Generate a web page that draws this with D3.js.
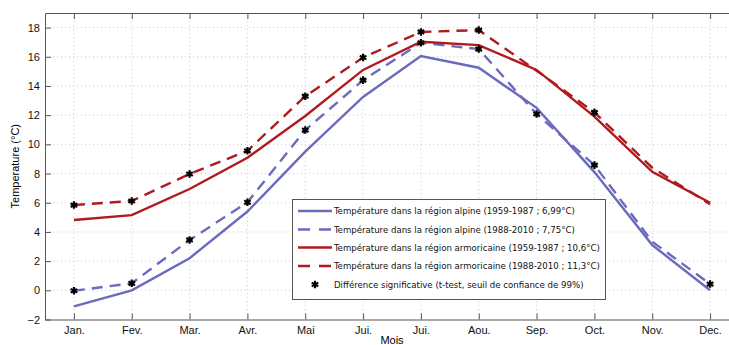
<!DOCTYPE html>
<html><head><meta charset="utf-8">
<script src="https://cdn.jsdelivr.net/npm/d3@7"></script>
<style>body{margin:0;background:#fff;} svg{display:block;}</style>
</head><body>
<svg id="c" width="729" height="345"></svg>
<script>
const months = ["Jan.","Fev.","Mar.","Avr.","Mai","Jui.","Jui.","Aou.","Sep.","Oct.","Nov.","Dec."];
const yTicks = [-2,0,2,4,6,8,10,12,14,16,18];
const alpine1 = [-1.1,0.0,2.2,5.4,9.5,13.25,16.05,15.25,12.5,8.1,3.1,0.0];
const alpine2 = [-0.03,0.48,3.45,6.03,10.98,14.4,16.96,16.53,12.08,8.58,3.33,0.43];
const armor1 = [4.82,5.15,6.94,9.08,11.94,15.1,17.03,16.8,15.1,11.9,8.12,6.0];
const armor2 = [5.84,6.12,7.97,9.56,13.3,15.95,17.7,17.83,15.05,12.19,8.4,5.9];
const sigAlpine = [1,1,1,1,1,1,1,1,1,1,0,1];
const sigArmor = [1,1,1,1,1,1,1,1,0,1,0,0];
const legendLabels = [
  "Température dans la région alpine (1959-1987 ; 6,99°C)",
  "Température dans la région alpine (1988-2010 ; 7,75°C)",
  "Température dans la région armoricaine (1959-1987 ; 10,6°C)",
  "Température dans la région armoricaine (1988-2010 ; 11,3°C)",
  "Différence significative (t-test, seuil de confiance de 99%)"
];
const blue = "#6b6bbd", red = "#b01a1f";

const svg = d3.select("#c");
const L = 45, T = 13, R = 739, B = 319.5;
const x = d3.scaleLinear().domain([0.5, 12.5]).range([L, R]);
const y = d3.scaleLinear().domain([-2, 19]).range([B, T]);
const font = "Liberation Sans, Arial, sans-serif";

// grid
const g = svg.append("g");
g.selectAll(".gy").data(yTicks.slice(1)).enter().append("line")
  .attr("x1", L).attr("x2", R).attr("y1", d => y(d)).attr("y2", d => y(d))
  .attr("stroke", "#c8c8c8").attr("stroke-width", 1).attr("stroke-dasharray", "1,3");
g.selectAll(".gx").data(d3.range(1, 13)).enter().append("line")
  .attr("y1", T).attr("y2", B).attr("x1", d => x(d)).attr("x2", d => x(d))
  .attr("stroke", "#c8c8c8").attr("stroke-width", 1).attr("stroke-dasharray", "1,3");

// axes
const axCol = "#555";
const axBottom = svg.append("g").attr("transform", `translate(0,${B})`)
  .call(d3.axisBottom(x).tickValues(d3.range(1, 13)).tickFormat(d => months[d - 1]).tickSizeInner(-6).tickSizeOuter(0).tickPadding(5));
const axTop = svg.append("g").attr("transform", `translate(0,${T})`)
  .call(d3.axisTop(x).tickValues(d3.range(1, 13)).tickFormat("").tickSizeInner(-6).tickSizeOuter(0));
const axLeft = svg.append("g").attr("transform", `translate(${L},0)`)
  .call(d3.axisLeft(y).tickValues(yTicks).tickFormat(d => d < 0 ? "\u22122" : d).tickSizeInner(-6).tickSizeOuter(0).tickPadding(5));
[axBottom, axTop, axLeft].forEach(a => {
  a.selectAll("path").attr("stroke", axCol);
  a.selectAll("line").attr("stroke", axCol);
  a.selectAll("text").attr("font-family", font).attr("font-size", 11).attr("fill", "#111");
});
axBottom.selectAll("text").attr("dy", "0.9em");

// axis titles
svg.append("text").attr("transform", `translate(19,${(T + B) / 2}) rotate(-90)`)
  .attr("text-anchor", "middle").attr("font-family", font).attr("font-size", 11).text("Temperature (°C)");
svg.append("text").attr("x", (L + R) / 2).attr("y", 344).attr("text-anchor", "middle")
  .attr("font-family", font).attr("font-size", 11).text("Mois");

// lines
const line = d3.line().x((d, i) => x(i + 1)).y(d => y(d));
const series = [
  {v: alpine1, c: blue, dash: null},
  {v: alpine2, c: blue, dash: "11,7"},
  {v: armor1, c: red, dash: null},
  {v: armor2, c: red, dash: "11,7"}
];
series.forEach(s => {
  svg.append("path").datum(s.v).attr("d", line).attr("fill", "none")
    .attr("stroke", s.c).attr("stroke-width", 2.4).attr("stroke-dasharray", s.dash);
});

// stars
const star = d3.symbol().type(d3.symbolAsterisk).size(40);
function stars(vals, sig) {
  svg.append("g").selectAll("path").data(vals.map((v, i) => ({v, i})).filter(d => sig[d.i]))
    .enter().append("path").attr("d", star)
    .attr("transform", d => `translate(${x(d.i + 1)},${y(d.v)})`)
    .attr("stroke", "#000").attr("stroke-width", 2.2).attr("fill", "none");
}
stars(alpine2, sigAlpine);
stars(armor2, sigArmor);

// legend
const lg = svg.append("g");
lg.append("rect").attr("x", 292.5).attr("y", 199.5).attr("width", 313).attr("height", 100)
  .attr("fill", "#fff").attr("stroke", "#555").attr("stroke-width", 1);
const rows = [211, 229.5, 247.5, 266, 284.5];
series.forEach((s, i) => {
  lg.append("line").attr("x1", 298).attr("x2", 332).attr("y1", rows[i]).attr("y2", rows[i])
    .attr("stroke", s.c).attr("stroke-width", 2.4).attr("stroke-dasharray", s.dash ? "12,9" : null);
});
lg.append("path").attr("d", star).attr("transform", `translate(315,${rows[4]})`)
  .attr("stroke", "#000").attr("stroke-width", 2.2).attr("fill", "none");
const lt = lg.selectAll(".lt").data(legendLabels).enter().append("text")
  .attr("x", 334).attr("y", (d, i) => rows[i]).attr("dy", "0.35em")
  .attr("font-family", "DejaVu Sans Condensed, DejaVu Sans, sans-serif").attr("font-size", 9).attr("fill", "#111")
  .text(d => d);
const w = d3.max(lt.nodes(), n => n.getComputedTextLength());
lt.attr("font-size", 9 * 266 / w);
</script>
</body></html>
